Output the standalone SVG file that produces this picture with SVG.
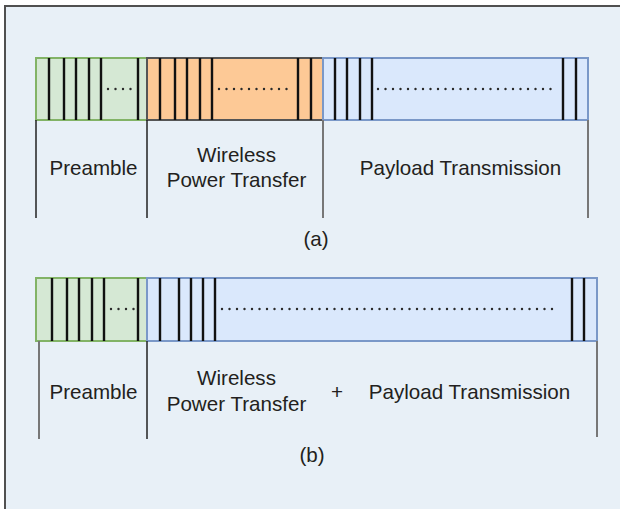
<svg xmlns="http://www.w3.org/2000/svg" width="620" height="509" viewBox="0 0 620 509">
<style>
.bg{fill:#e8f0f7;stroke:#505050;stroke-width:2}
.g{fill:#d5e8d4;stroke:#82b366;stroke-width:2}
.o{fill:#fdc996;stroke:#555;stroke-width:2}
.b{fill:#dae8fc;stroke:#7a98c8;stroke-width:2}
.bar{stroke:#111;stroke-width:2.4}
.dots{stroke:#2a2a2a;stroke-width:2.4;stroke-linecap:round;stroke-dasharray:0 7.5}
.div{stroke:#222;stroke-width:1.5}
.divg{stroke:#777;stroke-width:2}
text{font-family:"Liberation Sans",Arial,sans-serif;font-size:20.6px;fill:#231f20;text-anchor:middle}
</style>
<rect class="bg" x="5" y="6" width="640" height="520"/>
<g id="panel-a">
<g id="a-preamble">
<rect class="g" x="36" y="58" width="111" height="62"/>
<path class="bar" d="M49 58V120M64 58V120M76 58V120M89 58V120M101 58V120M138 58V120"/>
<line class="dots" x1="108" y1="89" x2="132" y2="89"/>
<text x="93.5" y="175">Preamble</text>
</g>
<g id="a-wpt">
<rect class="o" x="147" y="58" width="176" height="62"/>
<path class="bar" d="M160 58V120M175 58V120M187 58V120M200 58V120M212 58V120M298 58V120M311 58V120"/>
<line class="dots" x1="219" y1="89" x2="288" y2="89"/>
<text x="236.5" y="162">Wireless</text>
<text x="236.5" y="187">Power Transfer</text>
</g>
<g id="a-payload">
<rect class="b" x="323" y="58" width="265" height="62"/>
<path class="bar" d="M335 58V120M347 58V120M360 58V120M372 58V120M563 58V120M576 58V120"/>
<line class="dots" x1="378" y1="89" x2="551" y2="89"/>
<text x="460.5" y="175">Payload Transmission</text>
</g>
<text x="316" y="246">(a)</text>
</g>
<g id="panel-b">
<g id="b-preamble">
<rect class="g" x="36" y="278" width="111" height="63"/>
<path class="bar" d="M52 278V341M67 278V341M79 278V341M92 278V341M104 278V341M138 278V341"/>
<line class="dots" x1="111" y1="309" x2="135" y2="309"/>
<text x="93.5" y="399">Preamble</text>
</g>
<g id="b-wpt-payload">
<rect class="b" x="147" y="278" width="450" height="63"/>
<path class="bar" d="M160 278V341M179 278V341M191 278V341M203 278V341M215 278V341M572 278V341M584 278V341"/>
<line class="dots" x1="222" y1="309" x2="559" y2="309"/>
<text x="236.5" y="385">Wireless</text>
<text x="236.5" y="411">Power Transfer</text>
<text x="337" y="399">+</text>
<text x="469.5" y="399">Payload Transmission</text>
</g>
<text x="312" y="462">(b)</text>
</g>
<g id="connectors">
<line class="div" x1="36" y1="120" x2="36" y2="218"/>
<line class="div" x1="147" y1="120" x2="147" y2="218"/>
<line class="divg" x1="323" y1="120" x2="323" y2="218"/>
<line class="divg" x1="588" y1="120" x2="588" y2="218"/>
<line class="divg" x1="39" y1="341" x2="39" y2="439"/>
<line class="div" x1="147" y1="341" x2="147" y2="439"/>
<line class="divg" x1="597" y1="341" x2="597" y2="437"/>
</g>
</svg>
